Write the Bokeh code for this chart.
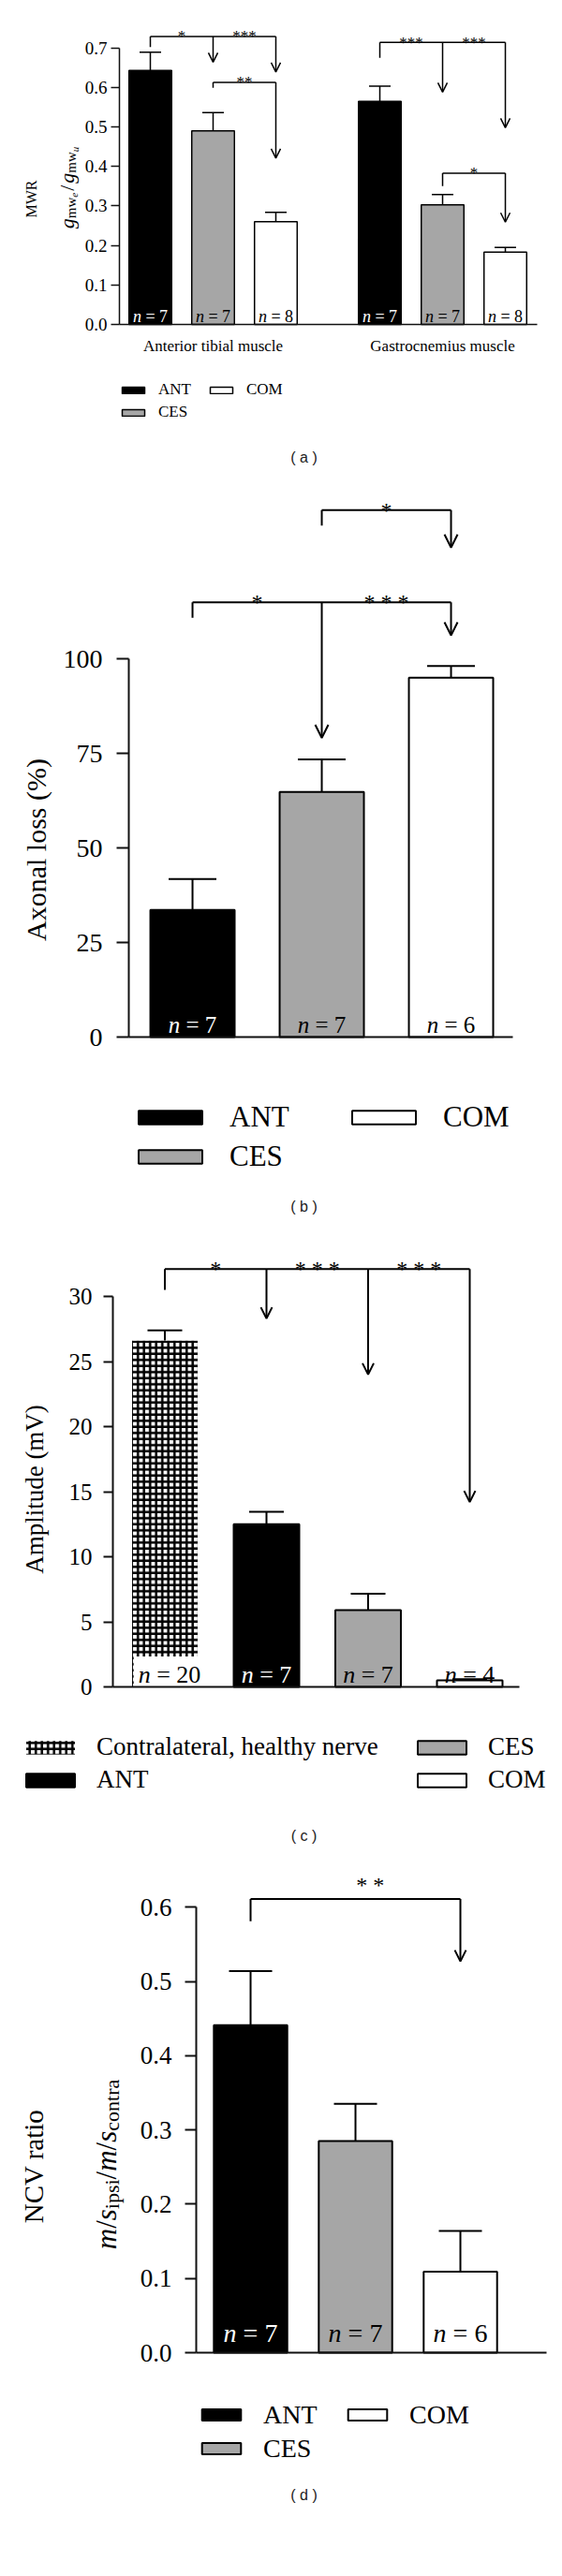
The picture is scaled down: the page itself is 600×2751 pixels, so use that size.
import math
from bokeh.plotting import figure
from bokeh.models import (ColumnDataSource, FixedTicker, PrintfTickFormatter, Legend, LegendItem,
                          Label, Arrow, OpenHead, Whisker, TeeHead, Range1d)
from bokeh.layouts import column
from bokeh.core.properties import value
from bokeh.embed import file_html
from bokeh.resources import INLINE

# ------------------------------------------------------------------ data
# (a) muscle weight ratio
a_muscles = ["Anterior tibial muscle", "Gastrocnemius muscle"]
a_groups = ["ANT", "CES", "COM"]
a_ant = [0.643, 0.565]
a_ant_sem = [0.046, 0.038]
a_ant_n = [7, 7]
a_ces = [0.490, 0.303]
a_ces_sem = [0.046, 0.026]
a_ces_n = [7, 7]
a_com = [0.260, 0.183]
a_com_sem = [0.024, 0.012]
a_com_n = [8, 8]
a_yticks = [0.0, 0.1, 0.2, 0.3, 0.4, 0.5, 0.6, 0.7]

# (b) axonal loss
b_groups = ["ANT", "CES", "COM"]
b_mean = [33.6, 64.8, 95.0]
b_sem = [8.2, 8.6, 3.1]
b_n = [7, 7, 6]
b_yticks = [0, 25, 50, 75, 100]

# (c) amplitude
c_groups = ["Contralateral, healthy nerve", "ANT", "CES", "COM"]
c_mean = [26.6, 12.5, 5.9, 0.5]
c_sem = [0.8, 0.95, 1.25, 0.1]
c_n = [20, 7, 7, 4]
c_yticks = [0, 5, 10, 15, 20, 25, 30]

# (d) NCV ratio
d_groups = ["ANT", "CES", "COM"]
d_mean = [0.441, 0.285, 0.109]
d_sem = [0.073, 0.050, 0.055]
d_n = [7, 7, 6]
d_yticks = [0.0, 0.1, 0.2, 0.3, 0.4, 0.5, 0.6]

# significance annotations (bar index -> bar indices)
a_sig = [(0, [1, 2], ["*", "***"]), (1, [2], ["**"]), (3, [4, 5], ["***", "***"]), (4, [5], ["*"])]
b_sig = [(1, [2], ["*"]), (0, [1, 2], ["*", "* * *"])]
c_sig = [(0, [1, 2, 3], ["*", "* * *", "* * *"])]
d_sig = [(0, [2], ["* *"])]

# ------------------------------------------------------------------ styles
SERIF = "Liberation Serif"
SANS = "Liberation Sans"
GRAY = "#a6a6a6"
PAGE_W = 592
STYLE = {
    "ANT": dict(fill_color="black", text_color="white"),
    "CES": dict(fill_color=GRAY, text_color="black"),
    "COM": dict(fill_color="white", text_color="black"),
    "Contralateral, healthy nerve": dict(fill_color="white", text_color="black",
                                         hatch_pattern="cross", hatch_scale=6.5, hatch_color="black"),
}

ROMAN = {'m': .778, 'w': .722, 'i': .278, 'p': .5, 's': .389, 'c': .444, 'o': .5, 'n': .5,
         't': .278, 'r': .333, 'a': .444, 'e': .444, 'u': .5, '/': .278, ' ': .25}
ITAL = {'g': .5, 'm': .722, 's': .389, 'e': .444, 'u': .5, '/': .278, 'n': .5}


def twidth(t, fs, italic):
    tab = ITAL if italic else ROMAN
    return sum(tab.get(ch, .5) for ch in t) * fs


class Panel:
    """Figure whose frame fills the whole canvas; page-pixel helpers."""
    def __init__(self, G):
        self.G = G
        bottom = G['top'] + G['h']
        xr = Range1d(self.dx(0), self.dx(PAGE_W))
        yr = Range1d(self.dy(bottom), self.dy(G['top']))
        p = figure(width=PAGE_W, height=G['h'], x_range=xr, y_range=yr, title=None,
                   output_backend="svg", toolbar_location=None,
                   min_border=0, min_border_left=0, min_border_right=0,
                   min_border_top=0, min_border_bottom=0)
        p.outline_line_color = None
        p.grid.visible = False
        p.background_fill_color = "white"
        p.border_fill_color = "white"
        self.p = p

    def dx(self, rx):
        G = self.G
        return G['x0'] + (rx - G['axl']) / G['ux']

    def dy(self, ry):
        G = self.G
        return (G['y0'] - ry) / G['uy']


def build(G, bars, groups, yticks, yfmt, sig, xlabels=None):
    P = Panel(G)
    p = P.p
    lw = G['lw']
    # axes (fixed inside the frame)
    yax = p.yaxis[0]
    yax.fixed_location = G['x0']
    yax.ticker = FixedTicker(ticks=yticks)
    yax.formatter = PrintfTickFormatter(format=yfmt)
    yax.bounds = (yticks[0], yticks[-1])
    yax.major_tick_out = G['tick']
    yax.major_tick_in = 0
    yax.minor_tick_line_color = None
    yax.major_label_standoff = G['standoff']
    yax.major_label_text_font = SERIF
    yax.major_label_text_font_size = f"{G['tick_fs']}px"
    yax.major_label_text_color = "black"
    yax.axis_line_width = lw
    yax.major_tick_line_width = lw
    yax.axis_line_color = "#111111"
    yax.major_tick_line_color = "#111111"
    xax = p.xaxis[0]
    xax.fixed_location = 0
    xax.bounds = (G['x0'], P.dx(G['axr']))
    xax.axis_line_width = lw
    xax.axis_line_color = "#111111"
    xax.major_tick_line_color = None
    xax.minor_tick_line_color = None
    if xlabels:
        ticks = [t for t, _ in xlabels]
        xax.ticker = FixedTicker(ticks=ticks)
        xax.major_label_overrides = {t: s for t, s in xlabels}
        xax.major_label_text_font = SERIF
        xax.major_label_text_font_size = f"{G['cat_fs']}px"
        xax.major_label_text_color = "black"
        xax.major_label_standoff = G['cat_standoff']
    else:
        xax.ticker = FixedTicker(ticks=[])

    X = [b['x'] for b in bars]
    renderers = {}
    for g in groups:
        sel = [b for b in bars if b['g'] == g]
        st = STYLE[g]
        fs = G['n_fs']
        tot = [(.5 + .25 + .564 + .25 + .5 * len(str(b['n']))) for b in sel]
        src = ColumnDataSource(dict(
            x=[b['x'] for b in sel], top=[b['m'] for b in sel],
            upper=[b['m'] + b['s'] for b in sel],
            nt=["n" for b in sel], rest=[f"= {b['n']}" for b in sel],
            xo_n=[-t / 2 * fs for t in tot], xo_r=[(-t / 2 + .75) * fs for t in tot]))
        kw = dict(fill_color=st['fill_color'], line_color="black", line_width=lw)
        if 'hatch_pattern' in st:
            kw.update(hatch_pattern=st['hatch_pattern'], hatch_scale=st['hatch_scale'],
                      hatch_color=st['hatch_color'], hatch_weight=2.5, line_color=None)
        r = p.vbar(x='x', top='top', bottom=0, width=G['bw'], source=src, **kw)
        renderers[g] = r
        wh = Whisker(source=src, base='x', lower='top', upper='upper', dimension='height',
                     line_width=lw, line_color="black", lower_head=None,
                     upper_head=TeeHead(size=G['cap'], line_width=lw, line_color="black"))
        p.add_layout(wh)
        tkw = dict(y=0, y_offset=-G['n_dy'], text_align='left', text_baseline='alphabetic',
                   text_font=value(SERIF), text_font_size=f"{fs}px", text_color=st['text_color'],
                   source=src)
        if 'hatch_pattern' in st:
            tkw.update(background_fill_color="white", padding=5)
        p.text(x='x', text='rest', x_offset='xo_r', **tkw)
        p.text(x='x', text='nt', x_offset='xo_n', text_font_style='italic', **tkw)

    # significance brackets
    seg = dict(x0=[], y0=[], x1=[], y1=[])
    arr = dict(x0=[], y0=[], x1=[], y1=[])
    stars = dict(x=[], y=[], t=[])
    for (s, dsts, labs), lay in zip(sig, G['brackets']):
        h, leg, tips = lay
        xs = X[s]
        xe = X[dsts[-1]]
        seg['x0'] += [xs, xs]
        seg['y0'] += [h, h]
        seg['x1'] += [xe, xs]
        seg['y1'] += [h, leg]
        prev = xs
        for d, lab, tip in zip(dsts, labs, tips):
            arr['x0'].append(X[d]); arr['y0'].append(h)
            arr['x1'].append(X[d]); arr['y1'].append(tip)
            stars['x'].append((prev + X[d]) / 2 + G.get('star_dx', 0))
            stars['y'].append(h)
            stars['t'].append(lab)
            prev = X[d]
    p.segment(x0='x0', y0='y0', x1='x1', y1='y1', source=ColumnDataSource(seg),
              line_color="black", line_width=lw)
    p.add_layout(Arrow(end=OpenHead(size=G['ah'], line_width=lw, line_color="black"),
                       x_start='x0', y_start='y0', x_end='x1', y_end='y1',
                       source=ColumnDataSource(arr), line_width=lw, line_color="black"))
    p.text(x='x', y='y', text='t', source=ColumnDataSource(stars), text_align='center',
           text_baseline='alphabetic', y_offset=G['star_dy'], text_font=value(SERIF),
           text_font_size=f"{G['star_fs']}px", text_color="black")

    # legend
    lg = G['legend']
    items = [LegendItem(label=g, renderers=[renderers[g]]) for g in lg['order']]
    rowh = lg['pitch'] - lg['spacing']
    box_bottom = lg['row1'] - rowh / 2 + 2 * rowh + lg['spacing']
    legend = Legend(items=items, location=(lg['left'], G['top'] + G['h'] - box_bottom),
                    orientation="vertical", nrows=2, glyph_width=lg['gw'], glyph_height=lg['gh'],
                    label_standoff=lg['standoff'], spacing=lg['spacing'], padding=0, margin=0,
                    label_height=rowh, label_width=lg['lw'], label_text_font=SERIF,
                    label_text_font_size=f"{lg['fs']}px", label_text_color="black",
                    border_line_color=None, background_fill_alpha=0)
    p.add_layout(legend)

    # panel letter
    lt = G['letter']
    p.add_layout(Label(x=P.dx(lt[1]), y=P.dy(lt[2]), text=lt[0], text_align='center',
                       text_baseline='middle', text_font=SANS, text_font_size="16px",
                       text_color="#222222"))
    return P


def ylabel(P, text, rx, ry, fs):
    P.p.add_layout(Label(x=P.dx(rx), y=P.dy(ry), text=text, angle=math.pi / 2,
                         text_align='center', text_baseline='middle', text_font=SERIF,
                         text_font_size=f"{fs}px", text_color="black"))


def ylabel_pieces(P, pieces, base_rx, center_ry):
    L = sum(twidth(t, fs, it) + gap for t, fs, it, sh, gap in pieces)
    ry = center_ry + L / 2
    for t, fs, it, sh, gap in pieces:
        P.p.add_layout(Label(x=P.dx(base_rx + sh), y=P.dy(ry), text=t, angle=math.pi / 2,
                             text_align='left', text_baseline='alphabetic', text_font=SERIF,
                             text_font_style='italic' if it else 'normal',
                             text_font_size=f"{fs}px", text_color="black"))
        ry -= twidth(t, fs, it) + gap


# ------------------------------------------------------------------ panel (a)
GAP_A = 0.657
a_bars = []
for gi, m in enumerate(a_muscles):
    for bi, (g, mv, sv, nv) in enumerate(zip(a_groups, [a_ant, a_ces, a_com],
                                             [a_ant_sem, a_ces_sem, a_com_sem],
                                             [a_ant_n, a_ces_n, a_com_n])):
        a_bars.append(dict(x=gi * (len(a_groups) + GAP_A) + bi, g=g, m=mv[gi], s=sv[gi], n=nv[gi]))
a_centers = [sum(b['x'] for b in a_bars[i * 3:(i + 1) * 3]) / 3 for i in range(len(a_muscles))]

GA = dict(top=0, h=505, axl=127, axr=573, y0=346, x0=-0.4925, ux=67, uy=421.9,
          bw=0.68, cap=23, lw=1.5, tick=9, standoff=4, tick_fs=19, n_fs=18, n_dy=9,
          star_fs=17, star_dy=0, ah=10, cat_fs=17, cat_standoff=7,
          brackets=[(0.729, 0.702, [0.664, 0.639]), (0.613, 0.599, [0.421]),
                    (0.714, 0.675, [0.588, 0.498]), (0.383, 0.350, [0.259])],
          legend=dict(order=["ANT", "CES", "COM"], fs=17, gw=30, gh=9, standoff=12, spacing=4,
                      pitch=24, row1=416, left=127, lw=48),
          letter=("( a )", 324, 488))
PA = build(GA, a_bars, a_groups, a_yticks, "%.1f", a_sig,
           xlabels=list(zip(a_centers, a_muscles)))
ylabel(PA, "MWR", 33, 212, 16)
ylabel_pieces(PA, [("g", 22, True, 0, 0), ("mw", 15, False, 4, 0), ("e", 11, True, 8, 2),
                   ("/", 22, False, 0, 2), ("g", 22, True, 0, 0), ("mw", 15, False, 4, 0),
                   ("u", 11, True, 8, 0)], 71, 200)

# ------------------------------------------------------------------ panel (b)
b_bars = [dict(x=i, g=g, m=m, s=s, n=n) for i, (g, m, s, n) in enumerate(zip(b_groups, b_mean, b_sem, b_n))]
GB = dict(top=505, h=800, axl=137, axr=547, y0=1107, x0=-0.493, ux=138, uy=4.04,
          bw=0.652, cap=51, lw=2, tick=13, standoff=15, tick_fs=28, n_fs=25, n_dy=13,
          star_fs=24, star_dy=0, ah=14,
          brackets=[(139.3, 135.2, [129.4]), (114.9, 110.8, [79.1, 106.2])],
          legend=dict(order=["ANT", "CES", "COM"], fs=31, gw=85, gh=18, standoff=21, spacing=6,
                      pitch=41, row1=1194, left=139, lw=116),
          letter=("( b )", 324, 1288))
PB = build(GB, b_bars, b_groups, b_yticks, "%d", b_sig)
ylabel(PB, "Axonal loss (%)", 38, 907, 30)

# ------------------------------------------------------------------ panel (c)
c_bars = [dict(x=i, g=g, m=m, s=s, n=n) for i, (g, m, s, n) in enumerate(zip(c_groups, c_mean, c_sem, c_n))]
GC = dict(top=1305, h=670, axl=120, axr=554, y0=1801, x0=-0.5115, ux=108.5, uy=13.9,
          bw=0.645, cap=37, lw=2, tick=10, standoff=12, tick_fs=25, n_fs=26, n_dy=13,
          star_fs=24, star_dy=0, ah=12,
          brackets=[(32.1, 30.5, [28.3, 24.0, 14.2])],
          legend=dict(order=["Contralateral, healthy nerve", "ANT", "CES", "COM"], fs=27, gw=65,
                      gh=18, standoff=17, spacing=4, pitch=32, row1=1870, left=21, lw=332),
          letter=("( c )", 324, 1960))
PC = build(GC, c_bars, c_groups, c_yticks, "%d", c_sig)
ylabel(PC, "Amplitude (mV)", 36, 1590, 27)

# ------------------------------------------------------------------ panel (d)
d_bars = [dict(x=i, g=g, m=m, s=s, n=n) for i, (g, m, s, n) in enumerate(zip(d_groups, d_mean, d_sem, d_n))]
GD = dict(top=1975, h=768, axl=209, axr=583, y0=2512, x0=-0.518, ux=112, uy=793,
          bw=0.70, cap=46, lw=2, tick=12, standoff=14, tick_fs=27, n_fs=28, n_dy=21,
          star_fs=24, star_dy=-15, star_dx=0.14, ah=12,
          brackets=[(0.611, 0.581, [0.527])],
          legend=dict(order=["ANT", "CES", "COM"], fs=28, gw=52, gh=15, standoff=19, spacing=4,
                      pitch=31, row1=2586, left=210, lw=81),
          letter=("( d )", 324, 2664))
PD = build(GD, d_bars, d_groups, d_yticks, "%.1f", d_sig)
ylabel(PD, "NCV ratio", 35, 2313, 29)
ylabel_pieces(PD, [("m", 31, True, 0, 0), ("/", 31, False, 0, 0), ("s", 31, True, 0, 0),
                   ("ipsi", 22, False, 6, 0), ("/", 31, False, 0, 0), ("m", 31, True, 0, 0),
                   ("/", 31, False, 0, 0), ("s", 31, True, 0, 0), ("contra", 22, False, 6, 0)],
              113, 2311)

layout = column(PA.p, PB.p, PC.p, PD.p)
open("out.html", "w").write(file_html(layout, INLINE))
